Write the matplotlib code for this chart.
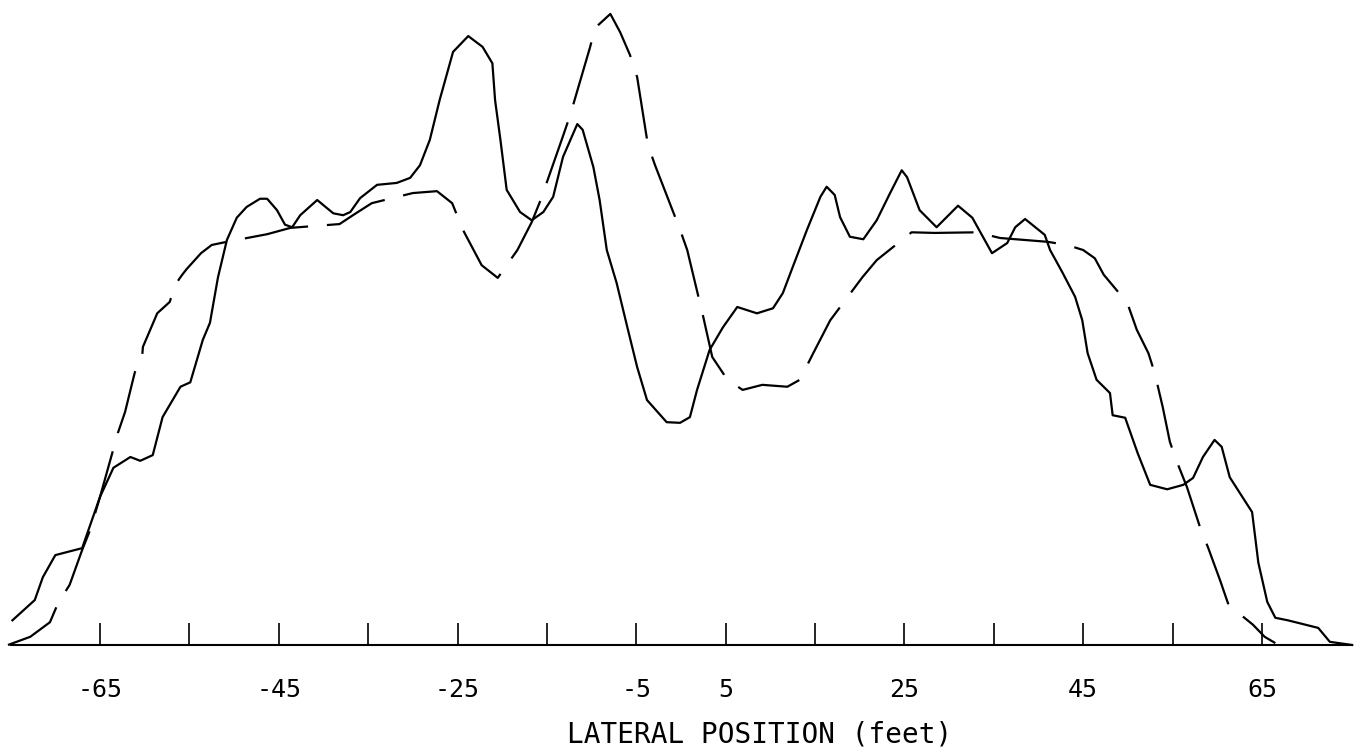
import matplotlib
matplotlib.use("Agg")
import matplotlib.pyplot as plt

# lateral position (feet) and relative frequency, solid curve
solid_x = [-74.8, -72.3, -71.4, -70.0, -67.0, -65.0, -63.5, -61.6, -60.5, -59.1,
           -58.0, -56.0, -54.9, -53.5, -52.7, -51.8, -50.8, -49.7, -48.6, -47.1,
           -46.3, -45.2, -44.3, -43.5, -42.6, -40.7, -38.9, -37.8, -37.0, -35.9,
           -34.0, -31.8, -30.3, -29.2, -28.1, -27.0, -25.5, -23.8, -22.2, -21.1,
           -20.8, -20.2, -19.5, -18.0, -16.7, -15.4, -14.3, -13.2, -11.6, -11.0,
           -9.8, -9.1, -8.3, -7.2, -6.0, -4.9, -3.8, -1.6, -0.1, 1.0,
           1.8, 3.2, 4.7, 6.3, 8.5, 10.3, 11.4, 12.5, 14.1, 15.6,
           16.3, 17.2, 17.8, 18.9, 20.4, 21.9, 23.4, 24.7, 25.3, 26.7,
           28.6, 31.0, 32.6, 34.8, 36.5, 37.4, 38.5, 40.7, 41.3, 42.7,
           44.1, 44.9, 45.5, 46.5, 48.0, 48.3, 49.7, 51.1, 52.5, 54.4,
           56.2, 57.3, 58.4, 59.7, 60.5, 61.4, 63.9, 64.6, 65.6, 66.5,
           67.9, 71.3, 72.6, 75.1]
solid_y = [3.9, 7.1, 10.7, 14.2, 15.3, 23.4, 28.0, 29.7, 29.1, 30.0,
           36.0, 40.8, 41.5, 48.2, 50.9, 58.1, 64.0, 67.5, 69.2, 70.5,
           70.5, 68.7, 66.4, 66.0, 67.9, 70.3, 68.2, 67.9, 68.4, 70.6,
           72.7, 73.0, 73.8, 75.8, 79.8, 86.1, 93.7, 96.2, 94.5, 91.9,
           86.1, 79.8, 71.9, 68.4, 67.1, 68.4, 70.8, 77.1, 82.3, 81.4,
           75.5, 70.3, 62.4, 57.2, 50.2, 43.9, 38.7, 35.2, 35.1, 36.0,
           40.3, 46.6, 50.2, 53.4, 52.4, 53.2, 55.6, 59.7, 65.6, 70.8,
           72.4, 71.1, 67.6, 64.5, 64.1, 67.1, 71.4, 75.0, 73.9, 68.7,
           66.0, 69.4, 67.5, 61.9, 63.5, 66.0, 67.3, 64.8, 62.4, 58.8,
           55.0, 51.3, 46.1, 41.9, 39.8, 36.3, 35.9, 30.3, 25.3, 24.6,
           25.3, 26.4, 29.7, 32.4, 31.3, 26.5, 21.0, 13.0, 6.8, 4.3,
           3.9, 2.7, 0.5, 0.0]

# dashed curve
dash_x = [-75.3, -72.8, -70.6, -69.7, -68.4, -67.0, -66.1, -65.0, -63.0, -62.2,
          -61.4, -61.1, -60.3, -60.2, -59.2, -58.6, -57.2, -56.6, -55.8, -55.3,
          -53.7, -52.5, -50.8, -46.3, -43.7, -38.2, -36.7, -34.6, -30.0, -27.3,
          -25.6, -24.4, -22.3, -20.5, -18.3, -16.7, -15.7, -13.2, -12.4, -10.2,
          -9.6, -7.9, -6.8, -5.7, -4.9, -3.7, -2.9, -0.1, 0.7, 2.5,
          3.5, 5.2, 6.9, 9.1, 11.9, 13.3, 14.8, 16.7, 20.3, 21.9,
          25.8, 28.4, 33.1, 35.7, 41.0, 43.2, 45.0, 46.3, 47.3, 48.9,
          49.9, 51.0, 52.3, 53.0, 53.9, 54.7, 55.5, 56.6, 58.1, 59.0,
          60.3, 61.2, 62.0, 64.0, 65.3, 66.5]
dash_y = [0.0, 1.3, 3.6, 6.6, 9.5, 15.0, 18.2, 23.4, 33.5, 36.8,
          41.4, 43.1, 45.3, 47.1, 50.4, 52.4, 54.2, 56.9, 58.5, 59.4,
          61.9, 63.2, 63.7, 64.9, 65.9, 66.5, 67.9, 69.8, 71.4, 71.7,
          69.8, 65.6, 60.0, 58.0, 62.4, 66.8, 70.3, 80.4, 83.7, 94.3,
          97.5, 99.7, 96.8, 93.2, 89.7, 79.0, 75.8, 65.6, 62.4, 51.8,
          45.5, 41.9, 40.3, 41.1, 40.8, 41.9, 46.1, 51.3, 58.1, 60.8,
          65.2, 65.1, 65.2, 64.3, 63.7, 63.2, 62.4, 61.1, 58.5, 55.8,
          54.2, 49.8, 46.1, 43.0, 37.6, 32.1, 28.9, 25.0, 18.5, 15.3,
          10.3, 6.6, 5.5, 3.2, 1.3, 0.3]

tick_pos = [-65, -55, -45, -35, -25, -15, -5, 5, 15, 25, 35, 45, 55, 65]
tick_lab = ['-65', '', '-45', '', '-25', '', '-5', '5', '', '25', '', '45', '', '65']

plt.rcParams['font.family'] = ['DejaVu Sans Mono']

fig = plt.figure(figsize=(13.58, 7.55), dpi=100)
ax = fig.add_axes([0, 0.1457, 1, 0.8543])

ax.plot(solid_x, solid_y, color='black', lw=1.6, clip_on=False)
ax.plot(dash_x, dash_y, color='black', lw=1.6, dashes=(29, 8.5), clip_on=False)

ax.set_xlim(-76.19, 75.75)
ax.set_ylim(0, 101.9)

for s in ['left', 'top', 'right']:
    ax.spines[s].set_visible(False)
ax.spines['bottom'].set_bounds(-75, 74.9)
ax.spines['bottom'].set_linewidth(1.5)
ax.set_yticks([])
ax.set_xticks(tick_pos)
ax.set_xticklabels(tick_lab)
ax.tick_params(axis='x', direction='in', length=16, width=1.2, pad=24, labelsize=18)

ax.set_xlabel('LATERAL POSITION (feet)', fontsize=20, va='center')
ax.xaxis.set_label_coords(760 / 1358, -0.1395)

fig.savefig('out.png', dpi=100)
